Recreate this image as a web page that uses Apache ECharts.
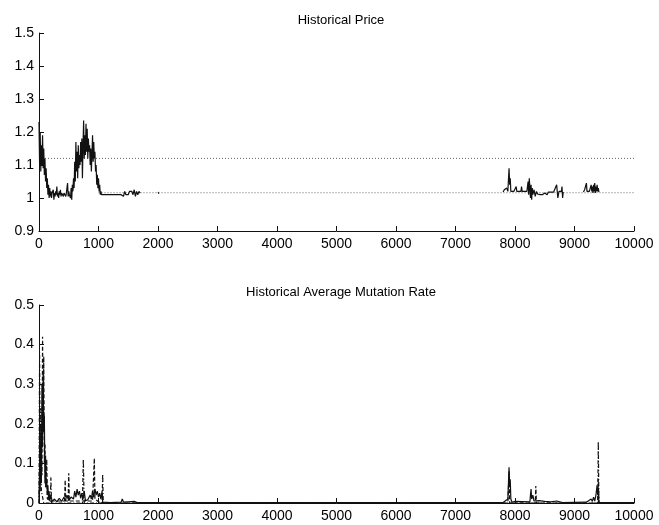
<!DOCTYPE html>
<html>
<head>
<meta charset="utf-8">
<script src="https://cdn.jsdelivr.net/npm/echarts@6/dist/echarts.min.js"></script>
<style>
  html, body { margin: 0; padding: 0; background: #fff; }
  #chart { width: 659px; height: 525px; }
</style>
</head>
<body>
<div id="chart"></div>
<script>
// ---- Historical price: dense early phase (generation, price) ----
const priceEarlyX = [0,10,20,30,40,50,60,70,80,90,100,110,120,130,140,150,160,170,180,190,
  200,210,220,230,240,250,260,270,280,290,300,310,320,330,340,350,360,370,380,390,
  400,410,420,430,440,450,460,470,480,490,500,510,520,530,540,550,560,570,580,590,
  600,610,620,630,640,650,660,670,680,690,700,710,720,730,740,750,760,770,780,790,
  800,810,820,830,840,850,860,870,880,890,900,910,920,930,940,950,960,970,980,990,
  1000,1010,1020,1030,1040,1050,1100,1200,1300,1380,1400,1420,1440,1460,1480,1500,
  1520,1540,1560,1580,1600,1620,1640,1660,1680,1700];
const priceEarlyY = [1.23,1.10,1.20,1.08,1.16,1.10,1.19,1.09,1.15,1.07,1.12,1.05,1.09,1.03,1.06,1.01,1.04,1.00,1.03,1.005,
  1.02,1.00,1.015,1.01,1.025,0.995,1.015,1.005,1.02,1.01,1.035,1.005,1.015,1.00,1.02,1.01,1.025,1.005,1.015,1.01,
  1.02,1.005,1.015,1.01,1.02,1.005,1.015,1.01,1.045,1.005,1.02,1.01,1.015,1.00,1.03,0.995,1.04,1.02,1.06,1.03,
  1.11,1.05,1.17,1.08,1.14,1.06,1.16,1.09,1.13,1.10,1.17,1.11,1.18,1.06,1.16,1.235,1.12,1.19,1.13,1.225,
  1.14,1.21,1.12,1.18,1.14,1.16,1.10,1.15,1.08,1.13,1.19,1.11,1.17,1.12,1.14,1.08,1.10,1.04,1.07,1.03,
  1.06,1.02,1.04,1.01,1.02,1.01,1.01,1.01,1.01,1.01,1.015,1.005,1.02,1.01,1.015,1.01,
  1.02,1.015,1.02,1.01,1.025,1.005,1.02,1.01,1.02,1.015];

// ---- Historical price: late phase ----
const priceLateX = [7800,7820,7840,7860,7880,7900,7910,7920,7930,7960,7980,8000,8020,8030,8100,8110,8120,
  8200,8220,8230,8240,8250,8260,8270,8280,8290,8300,8320,8340,8360,8380,8400,8420,8440,8460,8500,
  8540,8560,8600,8650,8700,8710,8720,8740,8780,8790,8800,8810];
const priceLateY = [1.018,1.025,1.02,1.03,1.02,1.09,1.04,1.06,1.02,1.025,1.02,1.02,1.035,1.02,1.02,1.035,1.02,
  1.02,1.05,1.01,1.06,1.03,1.00,1.04,0.995,1.03,1.01,1.025,1.005,1.02,1.012,1.018,1.01,1.015,1.01,1.015,
  1.01,1.018,1.018,1.018,1.04,1.02,1.00,1.02,1.02,1.035,1.00,1.018];
const priceEndX = [9150,9170,9200,9210,9250,9280,9290,9300,9310,9320,9330,9340,9350,9360,9370,9380,9390,9400,9410];
const priceEndY = [1.018,1.025,1.045,1.02,1.02,1.04,1.02,1.035,1.015,1.04,1.02,1.045,1.015,1.035,1.02,1.04,1.02,1.03,1.018];

// ---- Dotted reference levels: [startX, endX, level] ----
const refUpper = [0, 10000, 1.12];
const refLower = [1000, 10000, 1.016];

// ---- Historical average mutation rate ----
const mutSolidX = [0,10,20,30,40,50,60,70,80,90,100,110,120,130,140,150,160,170,180,200,220,260,300,340,380,420,440,470,500,
  540,580,600,620,640,660,680,700,720,740,760,780,820,860,880,900,920,940,960,980,1000,1020,1040,1060,1070,
  1200,1380,1400,1420,1500,1600,1650,2000,3000,7800,7880,7890,7900,7910,7920,7930,7950,8000,8020,8250,8260,
  8270,8280,8300,8320,8400,8420,8500,8600,8700,8800,9200,9280,9300,9320,9340,9360,9380,9390,9400,9410,10000];
const mutSolidY = [0.01,0.10,0.03,0.19,0.05,0.30,0.14,0.33,0.18,0.22,0.05,0.12,0.04,0.06,0.02,0.045,0.01,0.03,0.005,0.02,0.004,0.01,0.003,0.012,0.004,0.015,0.005,0.02,0.006,
  0.015,0.01,0.03,0.015,0.035,0.02,0.03,0.012,0.025,0.01,0.03,0.006,0.008,0.02,0.01,0.03,0.015,0.035,0.02,0.03,0.015,0.025,0.01,0.03,0.002,
  0.001,0.002,0.01,0.002,0.003,0.004,0.001,0.001,0.001,0.001,0.01,0.05,0.09,0.04,0.06,0.01,0.002,0.004,0.002,0.003,0.02,
  0.035,0.01,0.02,0.005,0.006,0.002,0.004,0.003,0.005,0.001,0.002,0.01,0.004,0.015,0.005,0.02,0.045,0.02,0.03,0.001,0.001];

const mutDashX = [0,20,40,50,60,70,80,90,100,110,120,130,140,200,430,440,450,490,500,510,900,930,940,1000,1100,
  7880,7900,7910,8340,8350,8360,9390,9400,9410];
const mutDashY = [0.0,0.06,0.12,0.07,0.42,0.18,0.37,0.10,0.15,0.04,0.05,0.11,0.01,0.005,0.005,0.058,0.005,0.005,0.075,0.005,0.005,0.113,0.01,0.003,0.0,
  0.0,0.08,0.0,0.0,0.043,0.0,0.0,0.06,0.0];

const mutDashDotX = [0,10,20,30,40,80,190,200,210,730,745,760,1060,1070,1080,9390,9400,9410];
const mutDashDotY = [0.0,0.38,0.10,0.24,0.03,0.0,0.0,0.065,0.0,0.0,0.11,0.0,0.0,0.073,0.0,0.0,0.155,0.0];

// ---- Axis ticks ----
const genTicks = { min: 0, max: 10000, step: 1000 };
const priceTicks = { min: 0.9, max: 1.5, step: 0.1 };
const mutTicks = { min: 0, max: 0.5, step: 0.1 };

const zip = (xs, ys) => xs.map((x, i) => [x, ys[i]]);
const ink = '#111';
const font = 'Liberation Sans, Arial, Helvetica, sans-serif';

function xAxisFor(gridIndex) {
  return {
    type: 'value', gridIndex,
    min: genTicks.min, max: genTicks.max, interval: genTicks.step,
    axisLine: { onZero: false, lineStyle: { color: ink, width: 1 } },
    axisTick: { inside: true, length: 5, lineStyle: { color: ink } },
    axisLabel: { color: '#000', fontSize: 14, fontFamily: font, margin: 6,
      formatter: v => String(Math.round(v)) },
    splitLine: { show: false }
  };
}
function yAxisFor(gridIndex, t) {
  return {
    type: 'value', gridIndex,
    min: t.min, max: t.max, interval: t.step,
    axisLine: { show: true, lineStyle: { color: ink, width: 1 } },
    axisTick: { show: true, inside: true, length: 5, lineStyle: { color: ink } },
    axisLabel: { color: '#000', fontSize: 14, fontFamily: font, margin: 5,
      formatter: v => String(Math.round(v * 10) / 10) },
    splitLine: { show: false }
  };
}
function lineSeries(xi, data, style) {
  return {
    type: 'line', xAxisIndex: xi, yAxisIndex: xi, data,
    showSymbol: false, symbol: 'none', animation: false,
    lineStyle: Object.assign({ color: ink, width: 1.2 }, style)
  };
}

const chart = echarts.init(document.getElementById('chart'), null, { renderer: 'canvas' });
chart.setOption({
  backgroundColor: '#fff',
  animation: false,
  title: [
    { text: 'Historical Price', left: 336, top: 9, textAlign: 'center',
      textStyle: { fontSize: 13, fontWeight: 'normal', color: '#000', fontFamily: font } },
    { text: 'Historical Average Mutation Rate', left: 336, top: 281, textAlign: 'center',
      textStyle: { fontSize: 13, fontWeight: 'normal', color: '#000', fontFamily: font } }
  ],
  grid: [
    { left: 39, right: 25, top: 33, height: 198 },
    { left: 39, right: 25, top: 305, height: 198 }
  ],
  xAxis: [xAxisFor(0), xAxisFor(1)],
  yAxis: [yAxisFor(0, priceTicks), yAxisFor(1, mutTicks)],
  series: [
    lineSeries(0, [[refUpper[0], refUpper[2]], [refUpper[1], refUpper[2]]], { color: '#666', width: 1, type: [1, 2] }),
    lineSeries(0, [[refLower[0], refLower[2]], [refLower[1], refLower[2]]], { color: '#666', width: 1, type: [1, 2] }),
    lineSeries(0, zip(priceEarlyX, priceEarlyY), {}),
    lineSeries(0, [[2000, 1.015], [2015, 1.016]], { width: 2 }),
    lineSeries(0, zip(priceLateX, priceLateY), {}),
    lineSeries(0, zip(priceEndX, priceEndY), {}),
    lineSeries(1, zip(mutSolidX, mutSolidY), {}),
    lineSeries(1, zip(mutDashX, mutDashY), { type: [4, 2] }),
    lineSeries(1, zip(mutDashDotX, mutDashDotY), { type: [4, 2, 1, 2] })
  ]
});
</script>
</body>
</html>
